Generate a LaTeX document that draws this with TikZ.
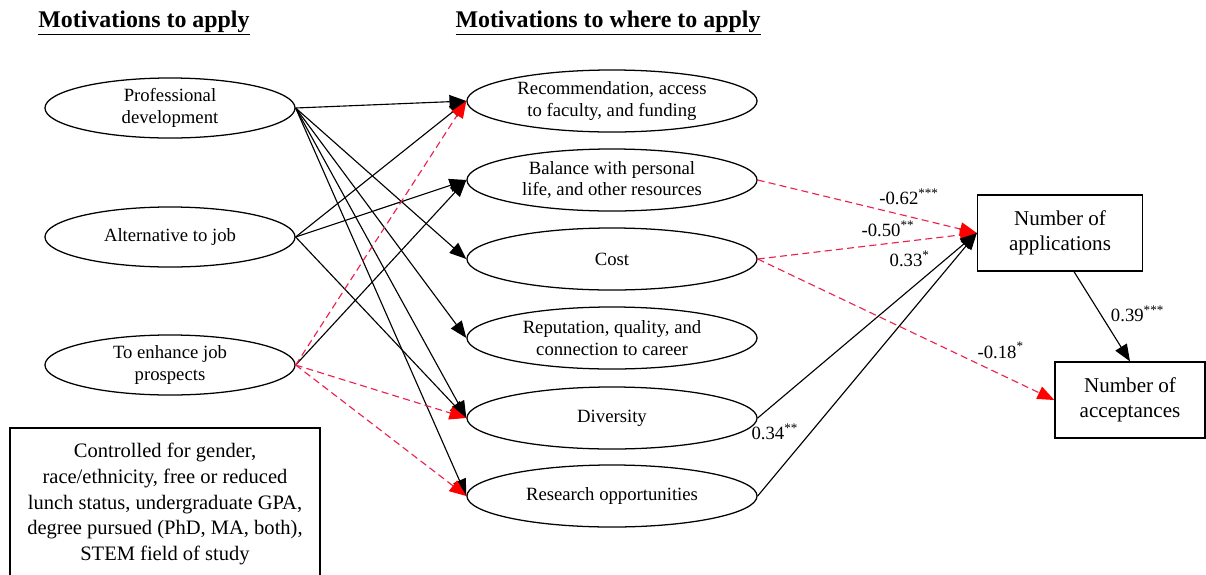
\documentclass[tikz,border=0pt]{standalone}
\usepackage{fontspec}
\setmainfont{Liberation Serif}
\usetikzlibrary{positioning,arrows.meta,shapes.geometric,quotes}

\definecolor{negred}{RGB}{236,32,78}

\begin{document}
\begin{tikzpicture}[x=0.025cm, y=-0.025cm, >={Triangle[length=12pt,width=9.5pt]},
  every node/.style={font=\fontsize{13.3}{15.5}\selectfont},
  motive/.style={ellipse, draw, line width=0.9pt, minimum width=6.25cm, minimum height=1.5cm, inner sep=0pt, align=center},
  where/.style={ellipse, draw, line width=0.9pt, minimum width=7.25cm, minimum height=1.55cm, inner sep=0pt, align=center},
  count/.style={rectangle, draw, line width=0.9pt, minimum width=4.125cm, minimum height=1.9cm, align=center, font=\fontsize{15}{18}\selectfont},
  title/.style={font=\fontsize{17}{20}\selectfont\bfseries},
  pospath/.style={->, line width=0.8pt, black},
  negpath/.style={-{Triangle[length=12pt,width=9.5pt,color=red]}, line width=0.8pt, negred, dash pattern=on 5pt off 3pt},
  every edge quotes/.append style={auto, inner sep=2pt, text=black}]

\useasboundingbox (0,0) rectangle (1206,574);
\clip (0,0) rectangle (1206,574);

% column headings
\node[title] (t1) at (144,23) {\underline{Motivations to apply}};
\node[title] (t2) at (608,23) {\underline{Motivations to where to apply}};

% motivations to apply
\node[motive] (pd) at (170,108) {Professional\\development};
\node[motive] (alt) at (170,237) {Alternative to job};
\node[motive] (job) at (170,365) {To enhance job\\prospects};

% motivations to where to apply
\node[where] (rec) at (612,101) {Recommendation, access\\to faculty, and funding};
\node[where] (bal) at (612,180) {Balance with personal\\life, and other resources};
\node[where] (cost) at (612,259) {Cost};
\node[where] (rep) at (612,338) {Reputation, quality, and\\connection to career};
\node[where] (div) at (612,418) {Diversity};
\node[where] (res) at (612,496) {Research opportunities};

% outcomes
\node[count] (apps) at (1060,233) {Number of\\applications};
\node[count, minimum width=3.75cm] (acc) at (1130,400) {Number of\\acceptances};

% controls
\node[draw, line width=0.9pt, minimum width=7.75cm, minimum height=3.8cm, align=center,
  font=\fontsize{14.6}{18.2}\selectfont] (ctrl) at (165,504)
  {Controlled for gender,\\race/ethnicity, free or reduced\\lunch status, undergraduate GPA,\\degree pursued (PhD, MA, both),\\STEM field of study};

\path[pospath]
 (pd.east) edge (rec.west) edge (cost.west) edge (rep.west) edge (div.west) edge (res.west)
 (alt.east) edge (rec.west) edge (bal.west) edge (div.west)
 (job.east) edge (bal.west);
\path[negpath]
 (job.east) edge (rec.west) edge (div.west) edge (res.west);

\path[negpath]
 (bal.east) edge["-0.62\textsuperscript{***}", pos=0.54] (apps.west)
 (cost.east) edge["-0.50\textsuperscript{**}", pos=0.73] (apps.west)
 (cost.east) edge["-0.18\textsuperscript{*}", pos=0.73] (acc.west);
\path[pospath]
 (div.east) edge["0.33\textsuperscript{*}", pos=0.8] (apps.west)
 (res.east) edge["0.34\textsuperscript{**}", pos=0.2] (apps.west)
 (apps.south) edge["0.39\textsuperscript{***}", pos=0.6, xshift=0.35cm] (acc.north);
\end{tikzpicture}
\end{document}
